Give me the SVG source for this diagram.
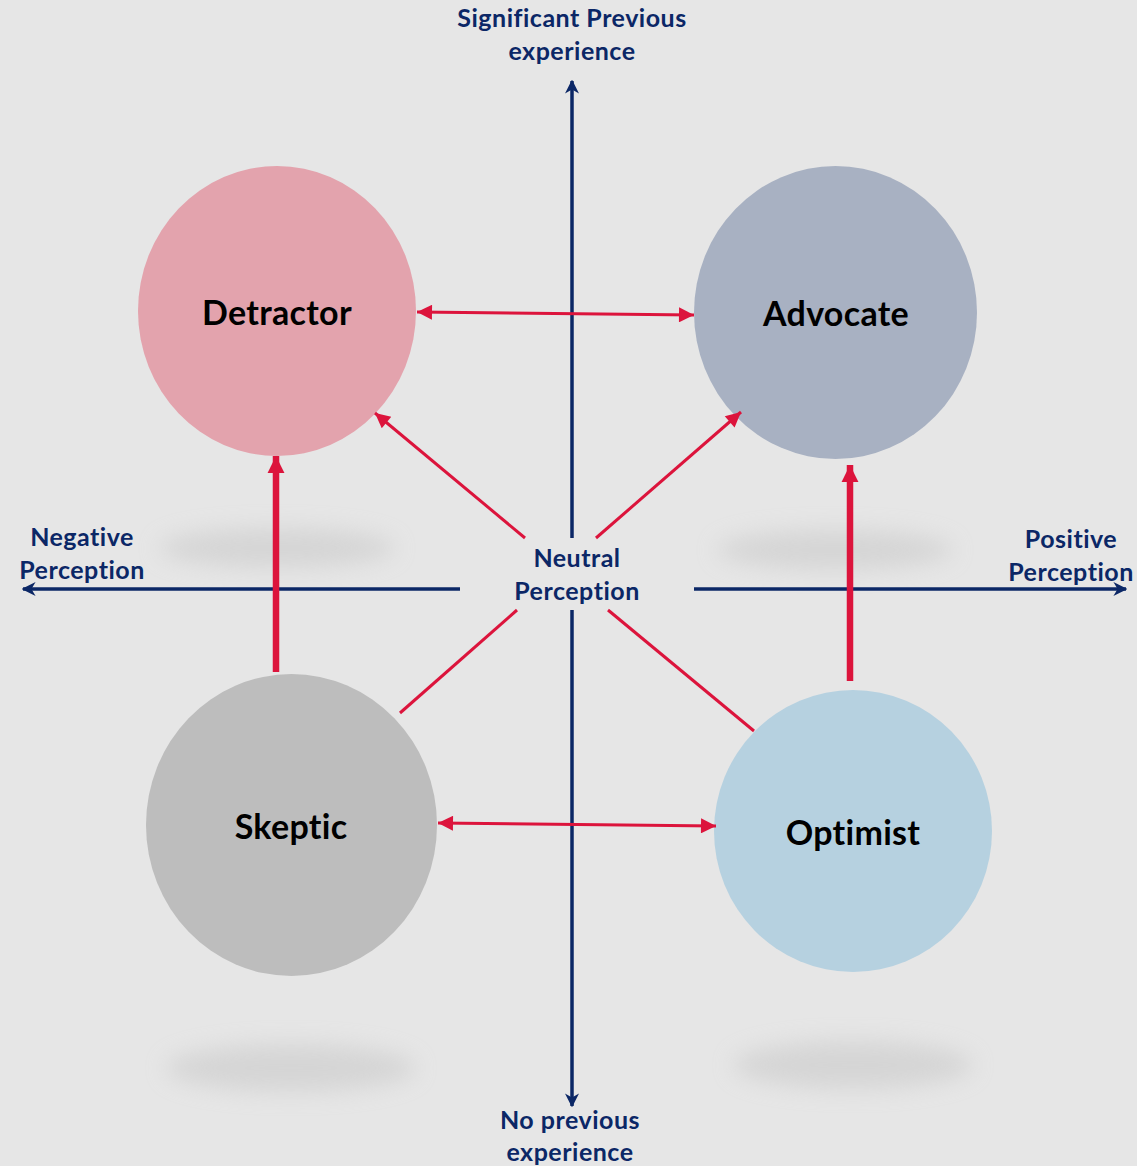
<svg xmlns="http://www.w3.org/2000/svg" width="1137" height="1166" viewBox="0 0 1137 1166">
  <defs>
    <style>
      .axis { stroke: #0b2766; stroke-width: 3.5; fill: none; }
      .link { stroke: #dc143c; stroke-width: 3; fill: none; }
      .thick { stroke: #dc143c; stroke-width: 6.5; fill: none; }
      .lbl { font-family: Lato, "Open Sans", sans-serif; font-weight: bold; fill: #0b2766; font-size: 25px; letter-spacing: 0.5px; text-anchor: middle; }
      .name { font-family: Lato, "Open Sans", sans-serif; font-weight: bold; fill: #000000; font-size: 34px; letter-spacing: 0.3px; text-anchor: middle; dominant-baseline: central; }
      .shadow { fill: #c8c8c8; filter: url(#soft); opacity: 0.55; }
    </style>
    <filter id="soft" x="-30%" y="-100%" width="160%" height="300%">
      <feGaussianBlur stdDeviation="11"/>
    </filter>
    <marker id="navyHead" viewBox="0 0 10 10" refX="9" refY="5" markerWidth="4" markerHeight="4" orient="auto-start-reverse" markerUnits="strokeWidth">
      <path d="M0,0 L10,5 L0,10 L3,5 Z" fill="#0b2766"/>
    </marker>
    <marker id="redHead" viewBox="0 0 10 10" refX="10" refY="5" markerWidth="5.5" markerHeight="5" orient="auto-start-reverse" markerUnits="strokeWidth">
      <path d="M0,0 L10,5 L0,10 Z" fill="#dc143c"/>
    </marker>
    <marker id="redHeadBig" viewBox="0 0 10 10" refX="10" refY="5" markerWidth="2.6" markerHeight="2.9" orient="auto" markerUnits="strokeWidth">
      <path d="M0,0 L10,5 L0,10 Z" fill="#dc143c"/>
    </marker>
  </defs>

  <rect width="1137" height="1166" fill="#e6e6e6"/>

  <!-- soft floor shadows -->
  <g id="shadows">
    <ellipse class="shadow" cx="277" cy="548" rx="118" ry="20"/>
    <ellipse class="shadow" cx="835" cy="550" rx="118" ry="20"/>
    <ellipse class="shadow" cx="291" cy="1068" rx="125" ry="24"/>
    <ellipse class="shadow" cx="853" cy="1065" rx="120" ry="24"/>
  </g>

  <!-- axes -->
  <g id="axes">
    <line class="axis" x1="572" y1="538" x2="572" y2="81" marker-end="url(#navyHead)"/>
    <line class="axis" x1="572" y1="610" x2="572" y2="1106" marker-end="url(#navyHead)"/>
    <line class="axis" x1="460" y1="589" x2="23" y2="589" marker-end="url(#navyHead)"/>
    <line class="axis" x1="694" y1="589" x2="1126" y2="589" marker-end="url(#navyHead)"/>
  </g>

  <!-- nodes -->
  <g id="detractor">
    <ellipse cx="277" cy="311" rx="139" ry="145" fill="#e3a3ad"/>
    <text class="name" x="277" y="311">Detractor</text>
  </g>
  <g id="advocate">
    <ellipse cx="835.5" cy="312.5" rx="141.5" ry="146.5" fill="#a8b1c2"/>
    <text class="name" x="836" y="312">Advocate</text>
  </g>
  <g id="skeptic">
    <ellipse cx="291.5" cy="825" rx="145.5" ry="151" fill="#bdbdbd"/>
    <text class="name" x="291" y="825">Skeptic</text>
  </g>
  <g id="optimist">
    <ellipse cx="853" cy="831" rx="139" ry="141" fill="#b6d1e0"/>
    <text class="name" x="853" y="831">Optimist</text>
  </g>

  <!-- connectors -->
  <g id="connectors">
    <line class="link" x1="417" y1="312" x2="694" y2="315" marker-start="url(#redHead)" marker-end="url(#redHead)"/>
    <line class="link" x1="438" y1="823" x2="716" y2="826" marker-start="url(#redHead)" marker-end="url(#redHead)"/>
    <line class="thick" x1="276" y1="672" x2="276" y2="456" marker-end="url(#redHeadBig)"/>
    <line class="thick" x1="850" y1="681" x2="850" y2="465" marker-end="url(#redHeadBig)"/>
    <line class="link" x1="525" y1="538" x2="375" y2="413" marker-end="url(#redHead)"/>
    <line class="link" x1="596" y1="538" x2="741" y2="412" marker-end="url(#redHead)"/>
    <line class="link" x1="517" y1="610" x2="400" y2="713"/>
    <line class="link" x1="608" y1="610" x2="754" y2="731"/>
  </g>

  <!-- axis labels -->
  <g id="labels">
    <text class="lbl" x="572" y="27">Significant Previous</text>
    <text class="lbl" x="572" y="60">experience</text>
    <text class="lbl" x="82" y="546">Negative</text>
    <text class="lbl" x="82" y="579">Perception</text>
    <text class="lbl" x="1071" y="548">Positive</text>
    <text class="lbl" x="1071" y="581">Perception</text>
    <text class="lbl" x="577" y="567">Neutral</text>
    <text class="lbl" x="577" y="600">Perception</text>
    <text class="lbl" x="570" y="1129">No previous</text>
    <text class="lbl" x="570" y="1161">experience</text>
  </g>
</svg>
